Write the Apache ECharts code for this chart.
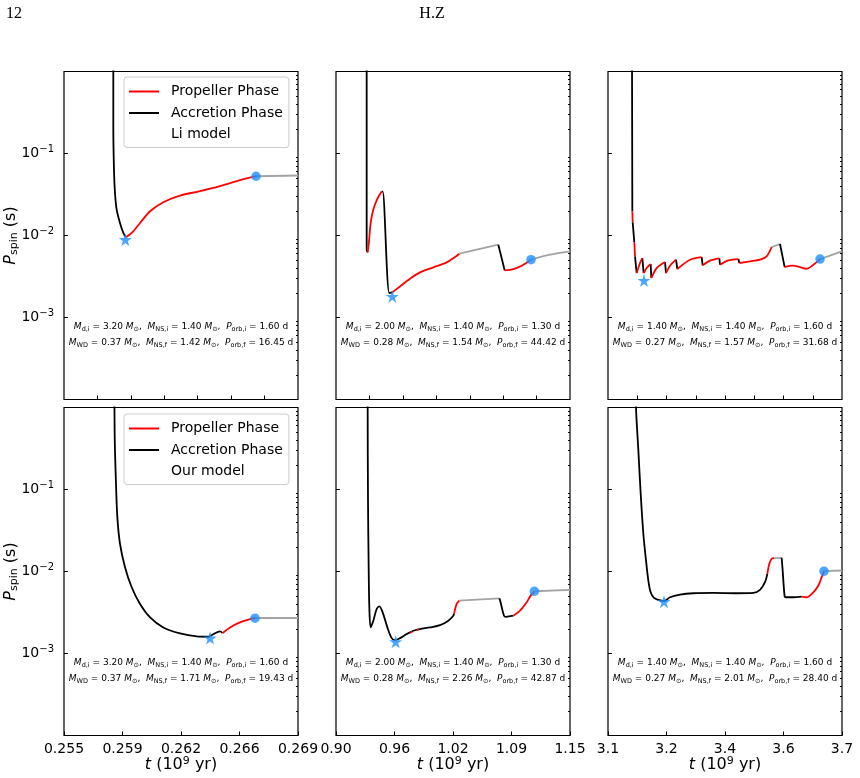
<!DOCTYPE html>
<html>
<head>
<meta charset="utf-8">
<script src="https://cdn.jsdelivr.net/npm/echarts@6/dist/echarts.min.js"></script>
<style>
html, body { margin: 0; padding: 0; background: #fff; }
#chart { width: 860px; height: 778px; }
</style>
</head>
<body>
<div id="chart"></div>
<script>
// time axes (10^9 yr)
const xRangeA = [0.255, 0.269];
const xRangeB = [0.90, 1.15];
const xRangeC = [3.1, 3.7];
const topTicksA = [0.257, 0.259, 0.261, 0.263, 0.265, 0.267];
const topTicksB = [0.9357, 0.9714, 1.0071, 1.0429, 1.0786, 1.1143];
const topTicksC = [3.175, 3.25, 3.325, 3.4, 3.475, 3.55, 3.625];
const botTicksA = [0.255, 0.2585, 0.262, 0.2655, 0.269];
const botLabelsA = ['0.255', '0.259', '0.262', '0.266', '0.269'];
const botTicksB = [0.9, 0.9625, 1.025, 1.0875, 1.15];
const botLabelsB = ['0.90', '0.96', '1.02', '1.09', '1.15'];
const botTicksC = [3.1, 3.25, 3.4, 3.55, 3.7];
const botLabelsC = ['3.1', '3.2', '3.4', '3.6', '3.7'];

// P_spin axis (s)
const yTickVals = [1e-3, 1e-2, 1e-1];
const yTickExps = ['\u22123', '\u22122', '\u22121'];
const yMinorVals = [];
for (let k = -4; k <= -1; k++) for (let m = 2; m <= 9; m++) yMinorVals.push(m * Math.pow(10, k));

// ---- Li model, M_d,i = 3.20
const liAccA = [[0.25795, 2], [0.25795, 0.216], [0.25799, 0.0637], [0.25805, 0.0331], [0.25815, 0.0207],
  [0.25835, 0.01422], [0.25855, 0.01074], [0.25871, 0.0095]];
const liPropA = [[0.25871, 0.0095], [0.25905, 0.01073], [0.25955, 0.01422], [0.26015, 0.01975], [0.26094, 0.02543],
  [0.26194, 0.0307], [0.26314, 0.0347], [0.26433, 0.0399], [0.26553, 0.0472], [0.26649, 0.0528]];
const liPostA = [[0.26649, 0.0528], [0.269, 0.0539]];
const liStarA = [0.25867, 0.0089];
const liEndA = [0.26649, 0.0528];
const infoLiA = ['3.20', '1.40', '1.60', '0.37', '1.42', '16.45'];

// ---- Li model, M_d,i = 2.00
const liAccB = [[0.93277, 2], [0.93277, 0.00672], [0.93383, 0.00623], null,
  [0.94879, 0.0343], [0.94986, 0.0343], [0.95698, 0.001984], [0.96054, 0.00204], null,
  [1.07344, 0.00773], [1.0802, 0.003754]];
const liPropB = [[0.93383, 0.00623], [0.93526, 0.00849], [0.93704, 0.01422], [0.93989, 0.0207], [0.94416, 0.0279], [0.94879, 0.0343], null,
  [0.96054, 0.00204], [0.96838, 0.002393], [0.97906, 0.00297], [0.98975, 0.00355], [1.00399, 0.00408], [1.01824, 0.0047],
  [1.02714, 0.00546], [1.03177, 0.006], null,
  [1.0802, 0.003754], [1.08946, 0.0039], [1.09836, 0.00428], [1.10833, 0.00507]];
const liPostB = [[1.03177, 0.006], [1.07344, 0.00773], null, [1.10833, 0.00507], [1.12863, 0.00583], [1.15, 0.0064]];
const liStarB = [0.96019, 0.001807];
const liEndB = [1.10833, 0.00507];
const infoLiB = ['2.00', '1.40', '1.30', '0.28', '1.54', '44.42'];

// ---- Li model, M_d,i = 1.40
const liAccC = [[3.1615, 2], [3.1624, 0.0198], null, [3.1633, 0.0145], [3.1675, 0.00825], null,
  [3.1692, 0.00557], [3.1735, 0.00348], null, [3.1880, 0.00531], [3.1914, 0.00348], null,
  [3.2094, 0.00449], [3.2111, 0.00303], null, [3.2462, 0.00475], [3.2487, 0.00348], null,
  [3.2744, 0.00507], [3.2778, 0.0039], null, [3.3402, 0.00546], [3.3427, 0.00432], null,
  [3.3855, 0.00526], [3.3872, 0.0044], null, [3.4342, 0.00516], [3.4368, 0.00462], null,
  [3.5410, 0.00787], [3.5530, 0.00412]];
const liPropC = [[3.1624, 0.0198], [3.1633, 0.0145], null, [3.1675, 0.00825], [3.1692, 0.00557], null,
  [3.1735, 0.00348], [3.1821, 0.00462], [3.1880, 0.00531], null,
  [3.1914, 0.00348], [3.1992, 0.00401], [3.2094, 0.00449], null,
  [3.2111, 0.00303], [3.2248, 0.00401], [3.2462, 0.00475], null,
  [3.2487, 0.00348], [3.2590, 0.00428], [3.2744, 0.00507], null,
  [3.2778, 0.0039], [3.3103, 0.00507], [3.3402, 0.00546], null,
  [3.3427, 0.00432], [3.3615, 0.00493], [3.3855, 0.00526], null,
  [3.3872, 0.0044], [3.4086, 0.00497], [3.4342, 0.00516], null,
  [3.4368, 0.00462], [3.4641, 0.00484], [3.4897, 0.00507], [3.5068, 0.00557], [3.5197, 0.00724], null,
  [3.5530, 0.00412], [3.5752, 0.00428], [3.5923, 0.00412], [3.6094, 0.00393], [3.6265, 0.0044], [3.6436, 0.00516]];
const liPostC = [[3.5197, 0.00724], [3.5410, 0.00787], null, [3.6436, 0.00516], [3.7, 0.00641]];
const liStarC = [3.1923, 0.00283];
const liEndC = [3.6436, 0.00516];
const infoLiC = ['1.40', '1.40', '1.60', '0.27', '1.57', '31.68'];

// ---- Our model, M_d,i = 3.20
const ourAccA = [[0.25801, 2], [0.25803, 0.5], [0.25805, 0.303], [0.25811, 0.1184], [0.25819, 0.0463], [0.25835, 0.0218],
  [0.25865, 0.0113], [0.25905, 0.00643], [0.25955, 0.00402], [0.26015, 0.00276], [0.26094, 0.00208],
  [0.26194, 0.001757], [0.26294, 0.001615], [0.26364, 0.0016], [0.26394, 0.001725], [0.26433, 0.00186], [0.26449, 0.001774]];
const ourPropA = [[0.26449, 0.001774], [0.26493, 0.00208], [0.26553, 0.0024], [0.26613, 0.002633], [0.26643, 0.00271]];
const ourPostA = [[0.26643, 0.00271], [0.269, 0.00271]];
const ourStarA = [0.26374, 0.00154];
const ourEndA = [0.26643, 0.0027];
const infoOurA = ['3.20', '1.40', '1.60', '0.37', '1.71', '19.43'];

// ---- Our model, M_d,i = 2.00
const ourAccB = [[0.93383, 2], [0.93383, 1], [0.93419, 0.074], [0.9349, 0.0113], [0.93561, 0.00366], [0.93704, 0.00208],
  [0.93989, 0.00251], [0.94345, 0.00349], [0.9463, 0.00376], [0.94986, 0.003177], [0.95485, 0.00208], [0.95948, 0.00154],
  [0.96304, 0.001457], [0.96838, 0.00154], [0.9755, 0.001725], [0.98262, 0.001895], [0.98975, 0.001986], [1.00043, 0.00208],
  [1.01111, 0.002213], [1.02002, 0.00251], [1.02536, 0.00289], [1.02607, 0.00303], null,
  [1.0745, 0.00471], [1.07522, 0.00449], [1.07949, 0.00289], [1.08163, 0.0028], [1.08946, 0.00289]];
const ourPropB = [[0.97906, 0.00178], [0.98155, 0.00185], null, [0.98618, 0.00194], [0.98832, 0.00197], null,
  [1.02607, 0.00303], [1.02892, 0.00402], [1.03177, 0.00441], null,
  [1.08946, 0.00289], [1.09659, 0.00333], [1.10371, 0.00421], [1.10798, 0.00508], [1.1119, 0.00574]];
const ourPostB = [[1.03177, 0.00441], [1.0745, 0.00471], null, [1.1119, 0.00574], [1.15, 0.00596]];
const ourStarB = [0.96375, 0.00139];
const ourEndB = [1.1119, 0.00574];
const infoOurB = ['2.00', '1.40', '1.30', '0.28', '2.26', '42.87'];

// ---- Our model, M_d,i = 1.40
const ourAccC = [[3.1712, 2], [3.1718, 1], [3.17778, 0.303], [3.18377, 0.0893], [3.1906, 0.0289], [3.19744, 0.01364],
  [3.20342, 0.00776], [3.20941, 0.00558], [3.21795, 0.00476], [3.22906, 0.0045], [3.24359, 0.00435], [3.25897, 0.00485],
  [3.28462, 0.00523], [3.3188, 0.00543], [3.37009, 0.00548], [3.42992, 0.00543], [3.47265, 0.00548], [3.48974, 0.00596],
  [3.50256, 0.0074], [3.50855, 0.00936], null,
  [3.5453, 0.0147], [3.54787, 0.01028], [3.55299, 0.00494], [3.55641, 0.00485], [3.57521, 0.00485], [3.59658, 0.00494]];
const ourPropC = [[3.50855, 0.00936], [3.51368, 0.01241], [3.51966, 0.01429], [3.52564, 0.01457], null,
  [3.59658, 0.00494], [3.6094, 0.00485], [3.6265, 0.00558], [3.63932, 0.00674], [3.64787, 0.00852], [3.65385, 0.01009]];
const ourPostC = [[3.52564, 0.01457], [3.5453, 0.0147], null, [3.65385, 0.01009], [3.7, 0.01028]];
const ourStarC = [3.24359, 0.00429];
const ourEndC = [3.65385, 0.01009];
const infoOurC = ['1.40', '1.40', '1.60', '0.27', '2.01', '28.40'];

const FONT = 'DejaVu Sans';
const colLefts = [64, 336, 608];
const rowTops = [71.5, 407.5];
const gridW = 234;
const gridH = 328;

const panels = [
  { row: 0, col: 0, acc: liAccA, prop: liPropA, post: liPostA, star: liStarA, end: liEndA, info: infoLiA, xr: xRangeA, topTicks: topTicksA, botTicks: botTicksA, botLabels: botLabelsA },
  { row: 0, col: 1, acc: liAccB, prop: liPropB, post: liPostB, star: liStarB, end: liEndB, info: infoLiB, xr: xRangeB, topTicks: topTicksB, botTicks: botTicksB, botLabels: botLabelsB },
  { row: 0, col: 2, acc: liAccC, prop: liPropC, post: liPostC, star: liStarC, end: liEndC, info: infoLiC, xr: xRangeC, topTicks: topTicksC, botTicks: botTicksC, botLabels: botLabelsC },
  { row: 1, col: 0, acc: ourAccA, prop: ourPropA, post: ourPostA, star: ourStarA, end: ourEndA, info: infoOurA, xr: xRangeA, topTicks: topTicksA, botTicks: botTicksA, botLabels: botLabelsA },
  { row: 1, col: 1, acc: ourAccB, prop: ourPropB, post: ourPostB, star: ourStarB, end: ourEndB, info: infoOurB, xr: xRangeB, topTicks: topTicksB, botTicks: botTicksB, botLabels: botLabelsB },
  { row: 1, col: 2, acc: ourAccC, prop: ourPropC, post: ourPostC, star: ourStarC, end: ourEndC, info: infoOurC, xr: xRangeC, topTicks: topTicksC, botTicks: botTicksC, botLabels: botLabelsC }
];

const starPath = 'path://M0,-10 L2.245,-3.09 L9.51,-3.09 L3.633,1.18 L5.88,8.09 L0,3.82 L-5.88,8.09 L-3.633,1.18 L-9.51,-3.09 L-2.245,-3.09 Z';
const tickLine = { color: '#000', width: 1 };

const infoRich = {
  n: { fontFamily: FONT, fontSize: 9, color: '#000' },
  i: { fontFamily: FONT, fontSize: 9, fontStyle: 'italic', color: '#000' },
  s: { fontFamily: FONT, fontSize: 6.5, color: '#000', padding: [5, 0, 0, 0] }
};

function infoLines(v) {
  return [
    '{i|M}{s|d,i}{n| = ' + v[0] + ' }{i|M}{s|\u2299}{n|,  }{i|M}{s|NS,i}{n| = ' + v[1] + ' }{i|M}{s|\u2299}{n|,  }{i|P}{s|orb,i}{n| = ' + v[2] + ' d}',
    '{i|M}{s|WD}{n| = ' + v[3] + ' }{i|M}{s|\u2299}{n|,  }{i|M}{s|NS,f}{n| = ' + v[4] + ' }{i|M}{s|\u2299}{n|,  }{i|P}{s|orb,f}{n| = ' + v[5] + ' d}'
  ];
}

function pickLabel(vals, labels, v) {
  let best = 0;
  vals.forEach((u, k) => { if (Math.abs(u - v) < Math.abs(vals[best] - v)) best = k; });
  return labels[best];
}

const grids = [], xAxes = [], yAxes = [], series = [], graphics = [];

panels.forEach((p, i) => {
  const left = colLefts[p.col];
  const top = rowTops[p.row];
  const bottomRow = p.row === 1;
  const firstCol = p.col === 0;

  grids.push({
    left: left, top: top, width: gridW, height: gridH,
    show: true, borderColor: '#000', borderWidth: 1.2, backgroundColor: 'transparent',
    containLabel: false, outerBoundsMode: 'none'
  });

  xAxes.push({
    type: 'value', gridIndex: i, min: p.xr[0], max: p.xr[1],
    axisLine: { show: false }, splitLine: { show: false },
    axisTick: { show: true, inside: true, length: 4, lineStyle: tickLine, customValues: bottomRow ? p.botTicks : p.topTicks },
    axisLabel: {
      show: bottomRow, customValues: p.botTicks, margin: 7, color: '#000', fontFamily: FONT, fontSize: 14,
      formatter: v => pickLabel(p.botTicks, p.botLabels, v)
    },
    name: bottomRow ? '{i|t}{n| (10}{p|9}{n| yr)}' : '',
    nameLocation: 'middle', nameGap: 20, nameMoveOverlap: false,
    nameTextStyle: {
      color: '#000', fontFamily: FONT, fontSize: 16,
      rich: {
        i: { fontFamily: FONT, fontSize: 16, fontStyle: 'italic', color: '#000' },
        n: { fontFamily: FONT, fontSize: 16, color: '#000' },
        p: { fontFamily: FONT, fontSize: 11, color: '#000', padding: [0, 0, 8, 0] }
      }
    }
  });

  yAxes.push({
    type: 'log', logBase: 10, gridIndex: i, min: 1e-4, max: 1,
    axisLine: { show: false }, splitLine: { show: false }, minorTick: { show: false },
    axisTick: { show: true, inside: true, length: 4, lineStyle: tickLine, customValues: yTickVals },
    axisLabel: {
      show: firstCol, customValues: yTickVals, margin: 10,
      formatter: v => '{b|10}{p|' + pickLabel(yTickVals.map(Math.log10), yTickExps, Math.log10(v)) + '}',
      rich: {
        b: { fontFamily: FONT, fontSize: 14, color: '#000' },
        p: { fontFamily: FONT, fontSize: 10, color: '#000', padding: [0, 0, 8, 0] }
      }
    },
    name: firstCol ? '{i|P}{s|spin}{n| (s)}' : '',
    nameLocation: 'middle', nameRotate: 90, nameGap: 44, nameMoveOverlap: false,
    nameTextStyle: {
      color: '#000', fontFamily: FONT, fontSize: 16,
      rich: {
        i: { fontFamily: FONT, fontSize: 16, fontStyle: 'italic', color: '#000' },
        n: { fontFamily: FONT, fontSize: 16, color: '#000' },
        s: { fontFamily: FONT, fontSize: 11, color: '#000', padding: [7, 0, 0, 0] }
      }
    }
  });
  // minor ticks
  yAxes.push({
    type: 'log', logBase: 10, gridIndex: i, min: 1e-4, max: 1,
    axisLine: { show: false }, splitLine: { show: false }, axisLabel: { show: false },
    axisTick: { show: true, inside: true, length: 2, lineStyle: tickLine, customValues: yMinorVals }
  });

  const base = { type: 'line', xAxisIndex: i, yAxisIndex: 2 * i, symbol: 'none', showSymbol: false,
    smooth: 0.3, connectNulls: false, clip: true, animation: false, silent: true };
  series.push(Object.assign({}, base, { name: 'post', data: p.post, z: 2,
    lineStyle: { color: '#a3a3a3', width: 1.8 }, itemStyle: { color: '#a3a3a3' } }));
  series.push(Object.assign({}, base, { name: 'Accretion Phase', data: p.acc, z: 3,
    lineStyle: { color: '#000', width: 1.8 }, itemStyle: { color: '#000' } }));
  series.push(Object.assign({}, base, { name: 'Propeller Phase', data: p.prop, z: 4,
    lineStyle: { color: '#ff0000', width: 1.8 }, itemStyle: { color: '#ff0000' } }));
  series.push({ type: 'scatter', xAxisIndex: i, yAxisIndex: 2 * i, data: [p.star], symbol: starPath,
    symbolSize: 13, itemStyle: { color: '#1e90ff' }, z: 6, animation: false, silent: true });
  series.push({ type: 'scatter', xAxisIndex: i, yAxisIndex: 2 * i, data: [p.end], symbol: 'circle',
    symbolSize: 9.5, itemStyle: { color: '#1e90ff' }, z: 6, animation: false, silent: true });

  infoLines(p.info).forEach((txt, k) => {
    graphics.push({
      type: 'text', x: left + gridW / 2, y: top + 255.5 + k * 15.5, z: 20, silent: true,
      style: { text: txt, rich: infoRich, align: 'center', verticalAlign: 'middle', fill: '#000', font: '9px ' + FONT }
    });
  });
});

// legend-only entries
series.push({ type: 'line', name: 'Li model', data: [], xAxisIndex: 0, yAxisIndex: 0, lineStyle: { opacity: 0 } });
series.push({ type: 'line', name: 'Our model', data: [], xAxisIndex: 3, yAxisIndex: 6, lineStyle: { opacity: 0 } });

function makeLegend(top, modelName) {
  const hideSymbol = { opacity: 0 };
  return {
    orient: 'vertical', left: 124, top: top, selectedMode: false,
    itemWidth: 30, itemHeight: 14, itemGap: 7.5, padding: [7.5, 6, 6, 4],
    borderColor: '#cccccc', borderWidth: 1, borderRadius: 3, backgroundColor: 'rgba(255,255,255,0.85)',
    textStyle: { fontFamily: FONT, fontSize: 14, color: '#000', padding: [0, 0, 0, 7] },
    data: [
      { name: 'Propeller Phase', itemStyle: hideSymbol },
      { name: 'Accretion Phase', itemStyle: hideSymbol },
      { name: modelName, icon: 'none' }
    ]
  };
}

graphics.push({ type: 'text', x: 6, y: 14, style: { text: '12', font: '16px "Liberation Serif"', fill: '#000', align: 'left', verticalAlign: 'middle' } });
graphics.push({ type: 'text', x: 432, y: 14, style: { text: 'H.Z', font: '16px "Liberation Serif"', fill: '#000', align: 'center', verticalAlign: 'middle' } });

const chart = echarts.init(document.getElementById('chart'), null, { renderer: 'canvas' });
chart.setOption({
  backgroundColor: '#fff',
  animation: false,
  textStyle: { fontFamily: FONT },
  grid: grids,
  xAxis: xAxes,
  yAxis: yAxes,
  legend: [makeLegend(77, 'Li model'), makeLegend(414, 'Our model')],
  series: series,
  graphic: graphics
});
</script>
</body>
</html>
